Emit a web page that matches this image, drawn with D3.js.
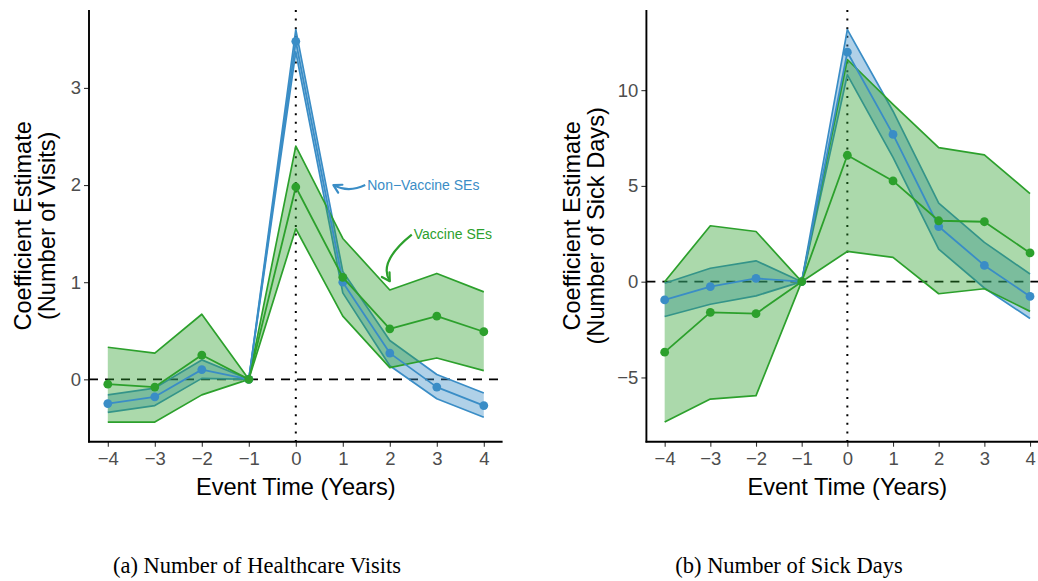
<!DOCTYPE html>
<html>
<head>
<meta charset="utf-8">
<script src="https://cdn.jsdelivr.net/npm/d3@7"></script>
<style>
  html, body { margin: 0; padding: 0; background: #fff; }
  svg { display: block; }
</style>
</head>
<body>
<script>
// Event time relative to the event (years)
const eventTime = [-4, -3, -2, -1, 0, 1, 2, 3, 4];

// Panel (a): number of healthcare visits
const visitsNonVaccEst = [-0.25, -0.18, 0.10, 0, 3.48, 1.00, 0.27, -0.08, -0.27];
const visitsNonVaccLo  = [-0.34, -0.27, 0.01, 0, 3.37, 0.89, 0.14, -0.20, -0.39];
const visitsNonVaccHi  = [-0.16, -0.09, 0.20, 0, 3.60, 1.11, 0.40, 0.05, -0.14];
const visitsVaccEst    = [-0.05, -0.08, 0.25, 0, 1.98, 1.05, 0.52, 0.65, 0.49];
const visitsVaccLo     = [-0.44, -0.44, -0.16, 0, 1.55, 0.65, 0.12, 0.22, 0.09];
const visitsVaccHi     = [0.33, 0.27, 0.67, 0, 2.40, 1.45, 0.92, 1.09, 0.90];

// Panel (b): number of sick days
const sickNonVaccEst = [-0.95, -0.26, 0.17, 0, 11.98, 7.69, 2.88, 0.85, -0.77];
const sickNonVaccLo  = [-1.82, -1.18, -0.74, 0, 10.80, 6.49, 1.70, -0.33, -1.92];
const sickNonVaccHi  = [-0.08, 0.70, 1.09, 0, 13.16, 8.90, 4.10, 2.05, 0.40];
const sickVaccEst    = [-3.68, -1.60, -1.67, 0, 6.60, 5.26, 3.18, 3.13, 1.50];
const sickVaccLo     = [-7.33, -6.13, -5.95, 0, 1.58, 1.27, -0.63, -0.37, -1.55];
const sickVaccHi     = [0.00, 2.92, 2.62, 0, 11.60, 9.26, 7.00, 6.62, 4.60];

// Axis ticks and labels
const xTicks = [-4, -3, -2, -1, 0, 1, 2, 3, 4];
const visitsYTicks = [0, 1, 2, 3];
const sickYTicks = [-5, 0, 5, 10];
const xTitle = "Event Time (Years)";
const visitsYTitle = ["Coefficient Estimate", "(Number of Visits)"];
const sickYTitle = ["Coefficient Estimate", "(Number of Sick Days)"];
const captions = ["(a) Number of Healthcare Visits", "(b) Number of Sick Days"];

// Annotation labels (data coordinates of the text start and arrow tip)
const noteLabels = ["Non\u2212Vaccine SEs", "Vaccine SEs"];
const noteTextX = [1.52, 2.51];
const noteTextY = [2.0, 1.49];
const noteTipX  = [0.80, 2.00];
const noteTipY  = [2.0, 1.01];

const BLUE = "#3a8dc6";
const GREEN = "#2ca02c";
const SANS = "'Liberation Sans', Arial, Helvetica, sans-serif";
const SERIF = "'Liberation Serif', 'Times New Roman', serif";

const W = 1038, H = 581;
const svg = d3.select("body").append("svg")
  .attr("width", W).attr("height", H)
  .attr("viewBox", `0 0 ${W} ${H}`);
svg.append("rect").attr("width", W).attr("height", H).attr("fill", "#fff");

const fmt = v => (v < 0 ? "\u2212" + Math.abs(v) : String(v));

function expanded(arrs) {
  const all = arrs.flat();
  const lo = d3.min(all), hi = d3.max(all);
  const pad = (hi - lo) * 0.05;
  return [lo - pad, hi + pad];
}

function drawPanel(opt) {
  const g = svg.append("g");
  const x = d3.scaleLinear().domain([-4.4, 4.4]).range([opt.left, opt.right]);
  const y = d3.scaleLinear().domain(expanded(opt.series.flatMap(s => [s.lo, s.hi, s.est])))
    .range([opt.bottom, opt.top]);

  // reference lines
  g.append("line")
    .attr("x1", x(0)).attr("x2", x(0)).attr("y1", opt.top).attr("y2", opt.bottom)
    .attr("stroke", "#000").attr("stroke-width", 2).attr("stroke-dasharray", "2,6.6");
  g.append("line")
    .attr("x1", opt.left).attr("x2", opt.right).attr("y1", y(0)).attr("y2", y(0))
    .attr("stroke", "#000").attr("stroke-width", 1.8).attr("stroke-dasharray", "9,7");

  const line = d3.line().x((d, i) => x(eventTime[i])).y(d => y(d));

  // confidence bands
  opt.series.forEach(s => {
    const area = d3.area()
      .x((d, i) => x(eventTime[i]))
      .y0((d, i) => y(s.lo[i]))
      .y1((d, i) => y(s.hi[i]));
    g.append("path").datum(s.est).attr("d", area)
      .attr("fill", s.color).attr("fill-opacity", 0.4).attr("stroke", "none");
    [s.lo, s.hi].forEach(b => {
      g.append("path").datum(b).attr("d", line)
        .attr("fill", "none").attr("stroke", s.color).attr("stroke-width", 1.7)
        .attr("stroke-linejoin", "round");
    });
  });

  // point estimates
  opt.series.forEach(s => {
    g.append("path").datum(s.est).attr("d", line)
      .attr("fill", "none").attr("stroke", s.color).attr("stroke-width", 1.8)
      .attr("stroke-linejoin", "round");
    g.selectAll(null).data(s.est).enter().append("circle")
      .attr("cx", (d, i) => x(eventTime[i])).attr("cy", d => y(d))
      .attr("r", 4.4).attr("fill", s.color);
  });

  // axes
  const xAxis = d3.axisBottom(x).tickValues(xTicks).tickFormat(fmt).tickSize(5).tickPadding(5);
  const yAxis = d3.axisLeft(y).tickValues(opt.yTicks).tickFormat(fmt).tickSize(5).tickPadding(3);
  const gx = g.append("g").attr("transform", `translate(0,${opt.bottom})`).call(xAxis);
  const gy = g.append("g").attr("transform", `translate(${opt.left},0)`).call(yAxis);
  [gx, gy].forEach(a => {
    a.select(".domain").remove();
    a.selectAll(".tick line").attr("stroke", "#333").attr("stroke-width", 1.1);
    a.selectAll(".tick text").attr("fill", "#4d4d4d")
      .attr("font-family", SANS).attr("font-size", 18.5);
  });
  gx.selectAll(".tick text").attr("dy", "0.71em");
  g.append("line").attr("x1", opt.left).attr("x2", opt.left)
    .attr("y1", opt.top).attr("y2", opt.bottom + 0.9)
    .attr("stroke", "#000").attr("stroke-width", 1.9);
  g.append("line").attr("x1", opt.left - 0.9).attr("x2", opt.right)
    .attr("y1", opt.bottom).attr("y2", opt.bottom)
    .attr("stroke", "#000").attr("stroke-width", 1.9);

  // axis titles
  g.append("text").attr("x", (x(-4) + x(4)) / 2).attr("y", opt.bottom + 53)
    .attr("text-anchor", "middle").attr("font-family", SANS).attr("font-size", 23.6)
    .attr("fill", "#000").text(xTitle);
  const cy = (opt.top + opt.bottom) / 2;
  opt.yTitle.forEach((t, i) => {
    g.append("text")
      .attr("transform", `translate(${opt.yTitleX[i]},${cy}) rotate(-90)`)
      .attr("text-anchor", "middle").attr("font-family", SANS).attr("font-size", 23.6)
      .attr("fill", "#000").text(t);
  });

  // caption
  g.append("text").attr("x", opt.captionX).attr("y", 573)
    .attr("text-anchor", "middle").attr("font-family", SERIF).attr("font-size", 22.5)
    .attr("fill", "#000").text(opt.caption);

  return { g, x, y };
}

const pa = drawPanel({
  left: 89, right: 502.6, top: 10, bottom: 441.7,
  series: [
    { est: visitsNonVaccEst, lo: visitsNonVaccLo, hi: visitsNonVaccHi, color: BLUE },
    { est: visitsVaccEst, lo: visitsVaccLo, hi: visitsVaccHi, color: GREEN }
  ],
  yTicks: visitsYTicks, yTitle: visitsYTitle, yTitleX: [31, 55],
  caption: captions[0], captionX: 257
});

drawPanel({
  left: 646.4, right: 1048.3, top: 10, bottom: 441.7,
  series: [
    { est: sickNonVaccEst, lo: sickNonVaccLo, hi: sickNonVaccHi, color: BLUE },
    { est: sickVaccEst, lo: sickVaccLo, hi: sickVaccHi, color: GREEN }
  ],
  yTicks: sickYTicks, yTitle: sickYTitle, yTitleX: [580, 604],
  caption: captions[1], captionX: 789
});

// curved arrows pointing at the two bands in panel (a)
const bend = [[-1, 8], [-23, 4]];
const noteColors = [BLUE, GREEN];
noteLabels.forEach((lab, i) => {
  const sx = pa.x(noteTextX[i]) - 2, sy = pa.y(noteTextY[i]);
  const tx = pa.x(noteTipX[i]), ty = pa.y(noteTipY[i]);
  const cx = (sx + tx) / 2 + bend[i][0], cyy = (sy + ty) / 2 + bend[i][1];
  const p = d3.path();
  p.moveTo(sx, sy);
  p.quadraticCurveTo(cx, cyy, tx, ty);
  pa.g.append("path").attr("d", p.toString())
    .attr("fill", "none").attr("stroke", noteColors[i]).attr("stroke-width", 2.2);
  const ang = Math.atan2(ty - cyy, tx - cx);
  const len = 9, spread = Math.PI / 6;
  const head = d3.path();
  head.moveTo(tx - len * Math.cos(ang - spread), ty - len * Math.sin(ang - spread));
  head.lineTo(tx, ty);
  head.lineTo(tx - len * Math.cos(ang + spread), ty - len * Math.sin(ang + spread));
  pa.g.append("path").attr("d", head.toString())
    .attr("fill", "none").attr("stroke", noteColors[i]).attr("stroke-width", 2.2)
    .attr("stroke-linejoin", "round").attr("stroke-linecap", "round");
  pa.g.append("text").attr("x", pa.x(noteTextX[i])).attr("y", sy)
    .attr("dy", "0.35em").attr("font-family", SANS).attr("font-size", 14)
    .attr("fill", noteColors[i]).text(lab);
});
</script>
</body>
</html>
